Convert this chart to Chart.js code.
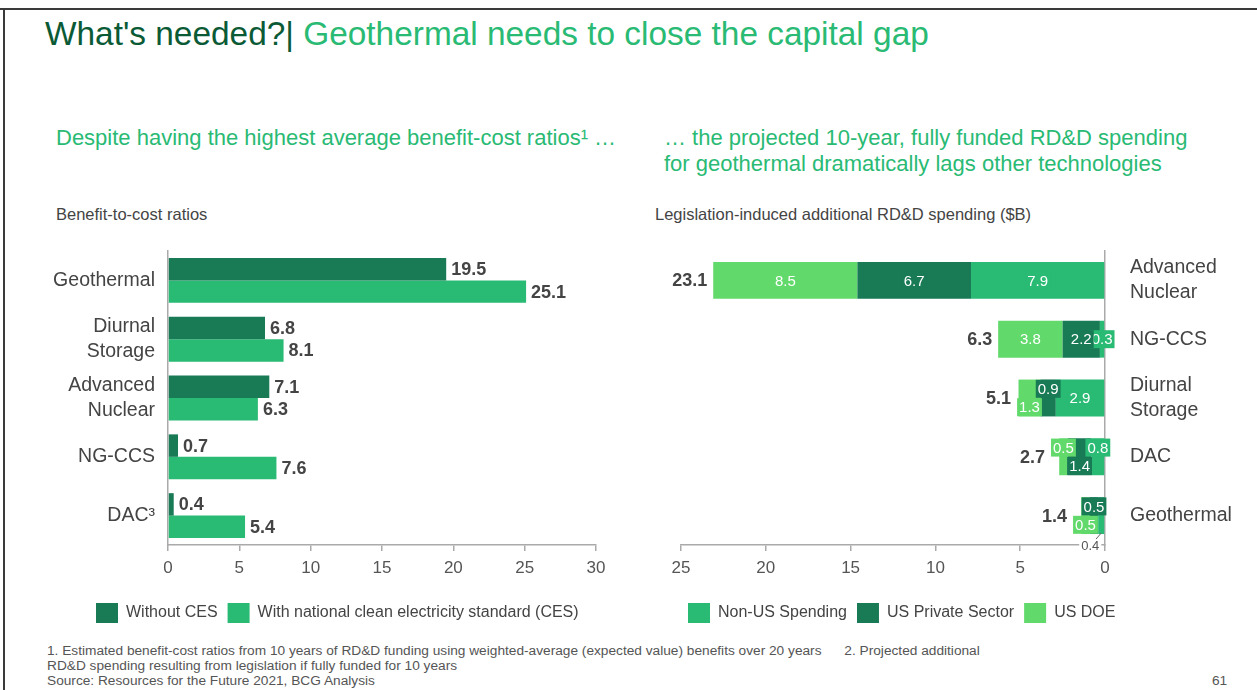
<!DOCTYPE html>
<html>
<head>
<meta charset="utf-8">
<script src="https://cdn.jsdelivr.net/npm/chart.js@4"></script>
<style>
    body { margin: 0; width: 1257px; height: 690px; position: relative; overflow: hidden; background: #fff;
           font-family: "Liberation Sans", Arial, sans-serif; }
    .frame-top { position: absolute; left: 0; top: 8px; width: 1257px; height: 2px; background: #3a3a3a; }
    .frame-left { position: absolute; left: 3px; top: 8px; width: 2px; height: 682px; background: #3a3a3a; }
    .t { position: absolute; white-space: nowrap; }
    #title { left: 45px; top: 17px; font-size: 33.4px; line-height: 33px; color: #29ba74; }
    #title span { color: #0b5a36; }
    .sub { font-size: 22px; line-height: 26px; color: #29ba74; }
    #subL { left: 56px; top: 125px; }
    #subR { left: 664px; top: 125px; }
    .ctitle { font-size: 16.5px; color: #444; top: 205px; }
    #ctL { left: 56px; }
    #ctR { left: 655px; }
    #foot { left: 47px; top: 643px; font-size: 13.7px; line-height: 15px; color: #555; }
    #page { left: 1212px; top: 673px; font-size: 13.7px; color: #555; }
    canvas { position: absolute; }
    #leftChart { left: 0; top: 240px; }
    #rightChart { left: 640px; top: 240px; }
</style>
</head>
<body>
<div class="frame-top"></div>
<div class="frame-left"></div>
<div class="t" id="title"><span>What's needed?|</span> Geothermal needs to close the capital gap</div>
<div class="t sub" id="subL">Despite having the highest average benefit-cost ratios¹ …</div>
<div class="t sub" id="subR">… the projected 10-year, fully funded RD&amp;D spending<br>for geothermal dramatically lags other technologies</div>
<div class="t ctitle" id="ctL">Benefit-to-cost ratios</div>
<div class="t ctitle" id="ctR">Legislation-induced additional RD&amp;D spending ($B)</div>
<div class="t" id="foot">1. Estimated benefit-cost ratios from 10 years of RD&amp;D funding using weighted-average (expected value) benefits over 20 years &nbsp;&nbsp;&nbsp;&nbsp; 2. Projected additional<br>RD&amp;D spending resulting from legislation if fully funded for 10 years<br>Source: Resources for the Future 2021, BCG Analysis</div>
<div class="t" id="page">61</div>

<canvas id="leftChart" width="640" height="393"></canvas>
<canvas id="rightChart" width="617" height="393"></canvas>

<script>
// left chart: benefit-to-cost ratios
const ratioTech = ['Geothermal', ['Diurnal', 'Storage'], ['Advanced', 'Nuclear'], 'NG-CCS', 'DAC³'];
const withoutCES = [19.5, 6.8, 7.1, 0.7, 0.4];
const withCES = [25.1, 8.1, 6.3, 7.6, 5.4];
const ratioTicks = [0, 5, 10, 15, 20, 25, 30];

// right chart: RD&D spending ($B)
const spendTech = [['Advanced', 'Nuclear'], 'NG-CCS', ['Diurnal', 'Storage'], 'DAC', 'Geothermal'];
const nonUS = [7.9, 0.3, 2.9, 0.8, 0.4];
const usPrivate = [6.7, 2.2, 0.9, 1.4, 0.5];
const usDOE = [8.5, 3.8, 1.3, 0.5, 0.5];
const spendTotals = [23.1, 6.3, 5.1, 2.7, 1.4];
const spendTicks = [0, 5, 10, 15, 20, 25];

// where each segment label sits: c = centre, t = upper half, b = lower half, below = under the axis
const segPlace = [
    ['c', 'c', 'c', 't', 'below'],
    ['c', 'c', 't', 'b', 't'],
    ['c', 'c', 'b', 't', 'b']
];

const DARK = '#197a56';
const MID = '#29ba74';
const LIGHT = '#62d96b';
const FONT = '"Liberation Sans", Arial, sans-serif';

Chart.defaults.font.family = FONT;
Chart.defaults.color = '#444';

// move the legend so its first box starts at a given x
const legendAt = {
    id: 'legendAt',
    afterLayout(chart, args, opts) {
        const lg = chart.legend;
        const w = lg.width;
        lg.left = opts.x - lg.options.labels.padding;
        lg.right = lg.left + w;
    }
};

const endLabels = {
    id: 'endLabels',
    afterDatasetsDraw(chart) {
        const ctx = chart.ctx;
        ctx.save();
        ctx.font = 'bold 18px ' + FONT;
        ctx.fillStyle = '#444';
        ctx.textBaseline = 'middle';
        chart.data.datasets.forEach((ds, i) => {
            chart.getDatasetMeta(i).data.forEach((bar, j) => {
                ctx.fillText(ds.data[j].toFixed(1), bar.x + 5, bar.y + 1);
            });
        });
        ctx.restore();
    }
};

const stackLabels = {
    id: 'stackLabels',
    afterDatasetsDraw(chart) {
        const ctx = chart.ctx;
        const axisY = chart.chartArea.bottom;
        const leftmost = chart.data.labels.map(() => Infinity);
        ctx.save();
        ctx.textBaseline = 'middle';
        ctx.textAlign = 'center';
        chart.data.datasets.forEach((ds, i) => {
            chart.getDatasetMeta(i).data.forEach((bar, j) => {
                const cx = (bar.x + bar.base) / 2;
                const txt = ds.data[j].toFixed(1);
                const place = segPlace[i][j];
                leftmost[j] = Math.min(leftmost[j], bar.x);
                if (place === 'below') {
                    const bottom = bar.y + bar.height / 2;
                    ctx.strokeStyle = '#666';
                    ctx.lineWidth = 1;
                    ctx.beginPath();
                    ctx.moveTo(cx, bottom - 1);
                    ctx.lineTo(cx - 6, axisY - 5);
                    ctx.stroke();
                    ctx.font = '13px ' + FONT;
                    const w = ctx.measureText(txt).width;
                    ctx.fillStyle = '#fff';
                    ctx.fillRect(cx - 11 - w / 2 - 2, axisY - 6, w + 4, 12);
                    ctx.fillStyle = '#555';
                    ctx.fillText(txt, cx - 11, axisY + 1);
                    return;
                }
                let y = bar.y;
                if (place === 't') y -= bar.height / 4;
                if (place === 'b') y += bar.height / 4;
                ctx.font = '15px ' + FONT;
                const w = ctx.measureText(txt).width;
                leftmost[j] = Math.min(leftmost[j], cx - w / 2 - 2);
                ctx.fillStyle = ds.backgroundColor;
                ctx.fillRect(cx - w / 2 - 2, y - 9, w + 4, 18);
                ctx.fillStyle = '#fff';
                ctx.fillText(txt, cx, y + 1);
            });
        });
        // totals on the far end of each stack
        const outer = chart.getDatasetMeta(chart.data.datasets.length - 1).data;
        ctx.font = 'bold 18px ' + FONT;
        ctx.fillStyle = '#444';
        ctx.textAlign = 'right';
        outer.forEach((bar, j) => {
            ctx.fillText(spendTotals[j].toFixed(1), leftmost[j] - 6, bar.y + 1);
        });
        ctx.restore();
    }
};

const legendLabels = {
    boxWidth: 22,
    boxHeight: 20,
    padding: 10,
    color: '#444',
    font: { size: 16 }
};

// category axis: no extra padding for the label halves, so the plot keeps its box
const fixY = w => s => { s.width = w; s.paddingTop = 0; s.paddingBottom = 0; };

new Chart(document.getElementById('leftChart'), {
    type: 'bar',
    data: {
        labels: ratioTech,
        datasets: [
            { label: 'Without CES', data: withoutCES, backgroundColor: DARK },
            { label: 'With national clean electricity standard (CES)', data: withCES, backgroundColor: MID }
        ]
    },
    options: {
        indexAxis: 'y',
        responsive: false,
        animation: false,
        layout: { padding: { top: 11, right: 44, left: 0, bottom: 0 } },
        datasets: { bar: { categoryPercentage: 0.763, barPercentage: 1 } },
        scales: {
            x: {
                min: 0, max: 30,
                afterBuildTicks: s => { s.ticks = ratioTicks.map(v => ({ value: v })); },
                afterFit: s => { s.height = 48; },
                grid: { drawOnChartArea: false, tickLength: 6, color: '#aaa', lineWidth: 1.5 },
                border: { color: '#aaa', width: 1.5 },
                ticks: { padding: 7, font: { size: 17 }, color: '#555' }
            },
            y: {
                afterFit: fixY(168),
                grid: { display: false, drawTicks: false },
                border: { color: '#aaa', width: 1.5 },
                ticks: { autoSkip: false, padding: 13, font: { size: 19.5, lineHeight: 1.3 }, color: '#444' }
            }
        },
        plugins: {
            legend: { position: 'bottom', align: 'start', labels: legendLabels },
            legendAt: { x: 96 },
            tooltip: { enabled: false }
        }
    },
    plugins: [endLabels, legendAt]
});

new Chart(document.getElementById('rightChart'), {
    type: 'bar',
    data: {
        labels: spendTech,
        datasets: [
            { label: 'Non-US Spending', data: nonUS, backgroundColor: MID },
            { label: 'US Private Sector', data: usPrivate, backgroundColor: DARK },
            { label: 'US DOE', data: usDOE, backgroundColor: LIGHT }
        ]
    },
    options: {
        indexAxis: 'y',
        responsive: false,
        animation: false,
        layout: { padding: { top: 11, right: 0, left: 41, bottom: 0 } },
        datasets: { bar: { categoryPercentage: 0.627, barPercentage: 1 } },
        scales: {
            x: {
                stacked: true,
                reverse: true,
                min: 0, max: 25,
                afterBuildTicks: s => { s.ticks = spendTicks.map(v => ({ value: v })); },
                afterFit: s => { s.height = 48; },
                grid: { drawOnChartArea: false, tickLength: 6, color: '#aaa', lineWidth: 1.5 },
                border: { color: '#aaa', width: 1.5 },
                ticks: { padding: 7, font: { size: 17 }, color: '#555' }
            },
            y: {
                stacked: true,
                position: 'right',
                afterFit: fixY(152),
                grid: { display: false, drawTicks: false },
                border: { color: '#aaa', width: 1.5 },
                ticks: { autoSkip: false, padding: 25, font: { size: 19.5, lineHeight: 1.3 }, color: '#444' }
            }
        },
        plugins: {
            legend: { position: 'bottom', align: 'start', labels: legendLabels },
            legendAt: { x: 48 },
            tooltip: { enabled: false }
        }
    },
    plugins: [stackLabels, legendAt]
});
</script>
</body>
</html>
